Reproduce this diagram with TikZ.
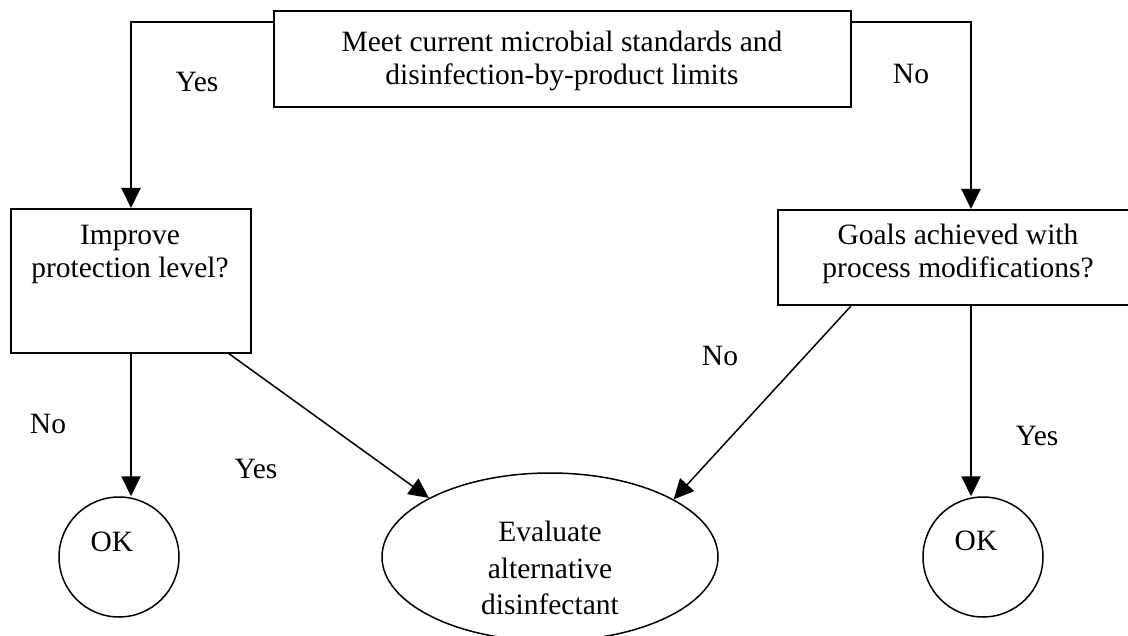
\documentclass[tikz,border=0pt]{standalone}
\usepackage{fontspec}
\setmainfont{Liberation Serif}
\usetikzlibrary{arrows.meta,shapes.geometric}
\begin{document}
\begin{tikzpicture}[x=1pt,y=-1pt,
  box/.style={draw, rectangle, line width=2pt, inner sep=0pt},
  ring/.style={draw, circle, line width=1.5pt, inner sep=0pt, minimum size=120pt},
  oval/.style={draw, ellipse, line width=1.5pt, inner sep=0pt,
               minimum width=336pt, minimum height=168pt},
  txt/.style={align=center, inner sep=0pt, font=\fontsize{29.5}{33}\selectfont},
  lbl/.style={inner sep=0pt, anchor=base, font=\fontsize{29.5}{33}\selectfont},
  arr/.style={-{Triangle[length=20pt,width=19pt]}, line width=2pt},
  arrthin/.style={-{Triangle[length=20pt,width=19pt]}, line width=1.5pt},
]
\useasboundingbox[fill=white] (0,0) rectangle (1128,636);

% decision boxes
\node[box, minimum width=577pt, minimum height=96pt] (top) at (562.5,59) {};
\node[box, minimum width=240pt, minimum height=144pt] (lbox) at (131,281) {};
\node[box, minimum width=386pt, minimum height=95pt] (rbox) at (971,257.5) {};

% end states
\node[ring] (lok) at (119,557) {};
\node[ring] (rok) at (983,557) {};
\node[oval] (eval) at (550,557) {};

% texts
\node[txt] (toptext) at (562,60.5) {Meet current microbial standards and\\disinfection-by-product limits};
\node[txt] (ltext) at (130,254) {Improve\\protection level?};
\node[txt] (rtext) at (958,254) {Goals achieved with\\process modifications?};
\node[txt, font=\fontsize{29.5}{36.5}\selectfont] (evaltext) at (550,568) {Evaluate\\alternative\\disinfectant};
\node[lbl] (loktext) at (112,551) {OK};
\node[lbl] (roktext) at (976,550) {OK};

% branch labels
\node[lbl] (yes1) at (197,92) {Yes};
\node[lbl] (no1) at (911,84) {No};
\node[lbl] (no2) at (48,434) {No};
\node[lbl] (yes2) at (256,478) {Yes};
\node[lbl] (no3) at (720,366) {No};
\node[lbl] (yes3) at (1037,446) {Yes};

% connector end points on the boxes
\coordinate (topl) at (274,22);
\coordinate (topr) at (851,22);
\coordinate (ldiag) at (228,353);
\coordinate (rdiag) at (851,306);

% connectors
\draw[arr] (topl) -| (lbox.north);
\draw[arr] (topr) -| (rbox.north);
\draw[arr] (lbox.south) -- (lbox.south |- lok.north);
\draw[arr] (rbox.south) -- (rbox.south |- rok.north);
\draw[arrthin] (ldiag) -- (eval.154);
\draw[arrthin] (rdiag) -- (eval.25);
\end{tikzpicture}
\end{document}
